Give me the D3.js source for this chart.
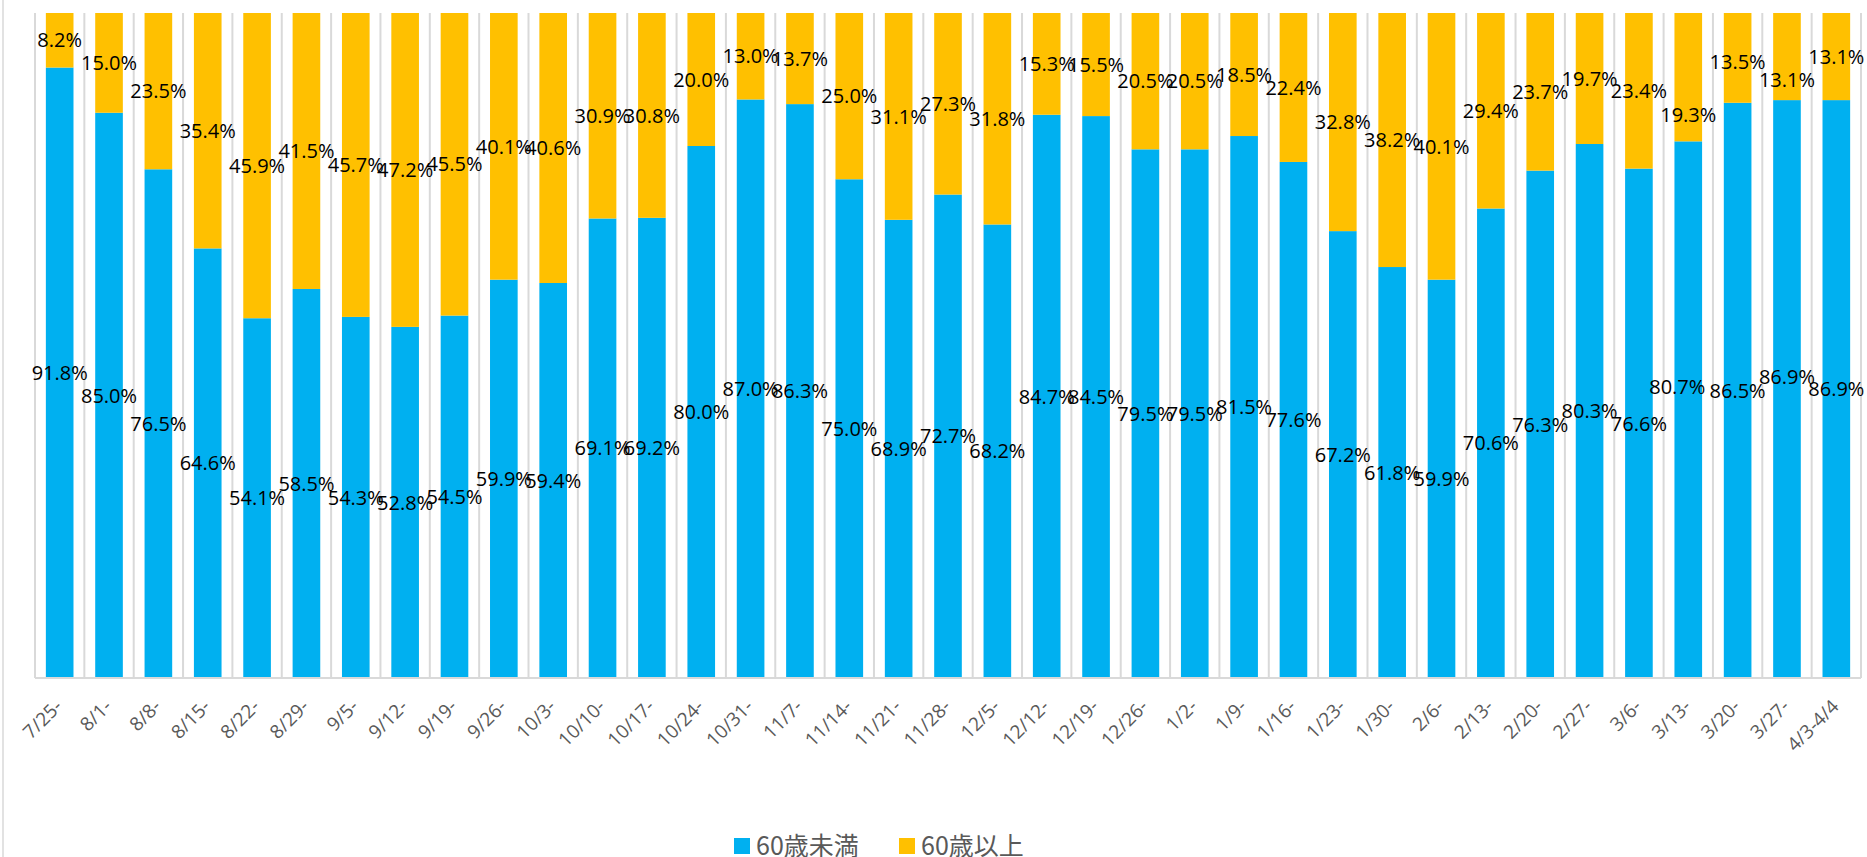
<!DOCTYPE html>
<html>
  <head>
    <meta charset="utf-8">
    <title></title>
    <style>
      body { margin: 0; background: #fff; }
      svg { display: block; }
    </style>
  </head>
  <body>
    <script src="https://cdn.jsdelivr.net/npm/d3@7"></script>
    <script>
      var categories = ['7/25-', '8/1-', '8/8-', '8/15-', '8/22-', '8/29-', '9/5-', '9/12-', '9/19-', '9/26-',
        '10/3-', '10/10-', '10/17-', '10/24-', '10/31-', '11/7-', '11/14-', '11/21-', '11/28-', '12/5-',
        '12/12-', '12/19-', '12/26-', '1/2-', '1/9-', '1/16-', '1/23-', '1/30-', '2/6-', '2/13-',
        '2/20-', '2/27-', '3/6-', '3/13-', '3/20-', '3/27-', '4/3-4/4'];
      // 60歳未満
      var under60 = [91.8, 85.0, 76.5, 64.6, 54.1, 58.5, 54.3, 52.8, 54.5, 59.9,
        59.4, 69.1, 69.2, 80.0, 87.0, 86.3, 75.0, 68.9, 72.7, 68.2,
        84.7, 84.5, 79.5, 79.5, 81.5, 77.6, 67.2, 61.8, 59.9, 70.6,
        76.3, 80.3, 76.6, 80.7, 86.5, 86.9, 86.9];
      // 60歳以上
      var over60 = [8.2, 15.0, 23.5, 35.4, 45.9, 41.5, 45.7, 47.2, 45.5, 40.1,
        40.6, 30.9, 30.8, 20.0, 13.0, 13.7, 25.0, 31.1, 27.3, 31.8,
        15.3, 15.5, 20.5, 20.5, 18.5, 22.4, 32.8, 38.2, 40.1, 29.4,
        23.7, 19.7, 23.4, 19.3, 13.5, 13.1, 13.1];
      var seriesNames = ['60歳未満', '60歳以上'];
      var colors = ['#00B0F0', '#FFC000'];

      var width = 1867,
        height = 857,
        plot = { left: 35, right: 1861, top: 13, bottom: 678 };

      // a few labels were dragged by hand in the original: [dx, dy] px
      var labelNudge = {
        '3/13-': { under: [-11, -23], over: [0, 38] },
        '3/20-': { over: [0, 4] },
        '3/27-': { under: [0, -12], over: [0, 23] }
      };

      var svg = d3.select('body')
        .append('svg')
        .attr('width', width)
        .attr('height', height);

      // chart border (left edge only visible)
      svg.append('line')
        .attr('x1', 3).attr('x2', 3)
        .attr('y1', 0).attr('y2', height)
        .attr('stroke', '#d9d9d9')
        .attr('stroke-width', 1.5);

      var x = d3.scaleBand()
        .domain(categories)
        .range([plot.left, plot.right])
        .paddingInner(0.44)
        .paddingOuter(0.22);

      var step = x.step();
      var y = d3.scaleLinear()
        .domain([0, 100])
        .range([plot.bottom, plot.top]);

      // vertical gridlines at category boundaries
      var bounds = d3.range(categories.length + 1);
      svg.selectAll('.grid')
        .data(bounds)
        .enter()
        .append('line')
        .classed('grid', true)
        .attr('x1', function(d) { return plot.left + d * step; })
        .attr('x2', function(d) { return plot.left + d * step; })
        .attr('y1', plot.top)
        .attr('y2', plot.bottom)
        .attr('stroke', '#d9d9d9')
        .attr('stroke-width', 2);

      var rows = categories.map(function(c, i) {
        return { cat: c, under: under60[i], over: over60[i] };
      });
      var stack = d3.stack().keys(['under', 'over'])(rows);

      var groups = svg.selectAll('.series')
        .data(stack)
        .enter()
        .append('g')
        .classed('series', true)
        .attr('fill', function(d, i) { return colors[i]; });

      groups.selectAll('rect')
        .data(function(d) { return d; })
        .enter()
        .append('rect')
        .attr('x', function(d) { return x(d.data.cat); })
        .attr('width', x.bandwidth())
        .attr('y', function(d) { return y(Math.min(d[1], 100)); })
        .attr('height', function(d) { return y(d[0]) - y(Math.min(d[1], 100)); });

      // axis line
      svg.append('line')
        .attr('x1', plot.left).attr('x2', plot.right)
        .attr('y1', plot.bottom).attr('y2', plot.bottom)
        .attr('stroke', '#d9d9d9')
        .attr('stroke-width', 2);

      // data labels
      var labels = svg.append('g')
        .attr('font-family', '"Open Sans", sans-serif')
        .attr('font-size', '20px')
        .attr('fill', '#000')
        .attr('text-anchor', 'middle');

      function nudge(d, key, k) {
        var n = labelNudge[d.data.cat];
        return n && n[key] ? n[key][k] : 0;
      }

      stack.forEach(function(s) {
        labels.selectAll(null)
          .data(s)
          .enter()
          .append('text')
          .attr('x', function(d) { return x(d.data.cat) + x.bandwidth() / 2 + nudge(d, s.key, 0); })
          .attr('y', function(d) { return (y(d[0]) + y(Math.min(d[1], 100))) / 2 + nudge(d, s.key, 1); })
          .attr('dy', '0.36em')
          .text(function(d) { return (d[1] - d[0]).toFixed(1) + '%'; });
      });

      // x axis labels, rotated
      svg.append('g')
        .selectAll('text')
        .data(categories)
        .enter()
        .append('text')
        .attr('font-family', '"Open Sans", sans-serif')
        .attr('font-size', '19px')
        .attr('fill', '#595959')
        .attr('text-anchor', 'end')
        .attr('transform', function(d) {
          return 'translate(' + (x(d) + x.bandwidth() / 2 - 1) + ',' + (plot.bottom + 25) + ') rotate(-45)';
        })
        .attr('dy', '0.35em')
        .text(function(d) { return d; });

      // legend
      var legend = svg.append('g')
        .attr('font-family', '"Noto Sans CJK JP", sans-serif')
        .attr('font-size', '25px')
        .attr('fill', '#595959');
      var legendX = [734, 899];
      var items = legend.selectAll('g')
        .data(seriesNames)
        .enter()
        .append('g')
        .attr('transform', function(d, i) { return 'translate(' + legendX[i] + ',838)'; });
      items.append('rect')
        .attr('width', 16)
        .attr('height', 16)
        .attr('fill', function(d, i) { return colors[i]; });
      items.append('text')
        .attr('x', 22)
        .attr('y', 8)
        .attr('dy', '0.36em')
        .text(function(d) { return d; });
    </script>
  </body>
</html>
